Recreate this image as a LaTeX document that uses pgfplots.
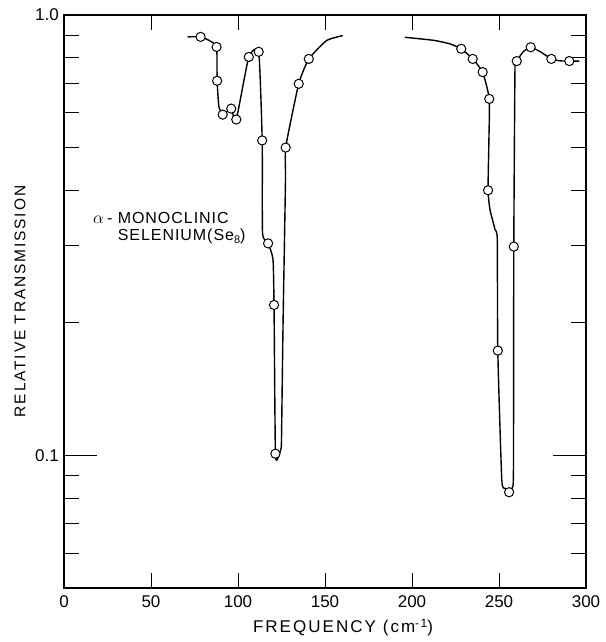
\documentclass[border=0pt]{standalone}
\usepackage{fontspec}
\setmainfont{Liberation Sans}
\newfontfamily\spaced[LetterSpace=12]{Liberation Sans}
\newfontfamily\spacedb[LetterSpace=6]{Liberation Sans}
\usepackage{pgfplots}
\pgfplotsset{compat=1.18}
\begin{document}
\fontsize{15}{18}\selectfont
\begin{tikzpicture}
\path[use as bounding box] (-64pt,-54pt) rectangle (541pt,588pt);
\begin{axis}[
  at={(0pt,0pt)}, anchor=south west,
  scale only axis, width=522pt, height=573pt,
  xmin=0, xmax=300, ymin=0.05, ymax=1, ymode=log,
  xtick={0,50,...,300}, minor xtick={50,100,...,250},
  major x tick style={draw=none},
  ytick={0.1,1}, yticklabels={0.1,1.0},
  minor ytick={0.06,0.07,0.08,0.09,0.2,0.3,0.4,0.5,0.6,0.7,0.8,0.9},
  major tick length=33pt, minor tick length=15pt,
  tick pos=both, tick align=inside,
  axis line style={line width=1.1pt},
  every tick/.style={black, line width=0.8pt},
  /pgf/number format/assume math mode=true,
  ticklabel style={font=\fontsize{17}{20}\selectfont},
  xticklabel style={yshift=-2pt},
  xlabel={FREQUENCY (cm\raisebox{5pt}{\fontsize{12}{12}\selectfont -1})},
  ylabel={RELATIVE TRANSMISSION},
  xlabel style={at={(axis description cs:0.5345,-0.0698)}, anchor=center, font=\spaced\fontsize{17}{20}\selectfont},
  ylabel style={at={(axis description cs:-0.0843,0.5)}, anchor=center, font=\spaced\fontsize{15.5}{18}\selectfont},
]
\addplot[black, line width=1.4pt, smooth, tension=0.3] coordinates {
(71.1,0.892) (78.5,0.892) (83.5,0.875) (87.7,0.846) (88.0,0.709) (89.0,0.62)
(91.2,0.594) (93.6,0.603) (96.1,0.613) (99.0,0.579) (106.2,0.803) (111.9,0.825)
(113.9,0.519) (114.1,0.32) (117.3,0.303) (120.1,0.279) (120.7,0.2196)
(121.5,0.1009) (123.2,0.0993) (124.8,0.104) (125.0,0.109) (125.9,0.2)
(127.3,0.423) (127.4,0.500) (134.9,0.698) (140.7,0.795) (150.9,0.875) (160.2,0.898)
};
\addplot[black, line width=1.4pt, smooth, tension=0.3] coordinates {
(195.9,0.890) (212.5,0.876) (221.8,0.860) (228.3,0.838) (234.9,0.795) (240.6,0.742)
(244.4,0.645) (244.2,0.52) (243.7,0.400) (244.8,0.362) (247.7,0.326) (249.0,0.31)
(249.3,0.173) (251.6,0.088) (253.5,0.0842) (255.8,0.0825) (257.6,0.0845) (258.3,0.092)
(258.5,0.298) (259.2,0.764) (260.2,0.786) (264.0,0.826) (268.2,0.845) (273.6,0.826)
(280.1,0.795) (285.1,0.787) (290.4,0.786) (296.2,0.786)
};
\addplot[only marks, mark=*, mark size=4.6pt, mark options={fill=white, draw=black, line width=1pt}] coordinates {
(78.5,0.892) (87.7,0.846) (88.0,0.709) (91.2,0.594) (96.1,0.613) (99.0,0.579)
(106.2,0.803) (111.9,0.825) (113.9,0.519) (117.3,0.303) (120.7,0.2196) (121.5,0.1009)
(127.4,0.500) (134.9,0.698) (140.7,0.795)
(228.3,0.838) (234.9,0.795) (240.6,0.742) (244.4,0.645) (243.7,0.400) (249.3,0.173)
(255.8,0.0825) (258.5,0.298) (260.2,0.786) (268.2,0.845) (280.1,0.795) (290.4,0.786)
};
\node[anchor=base west, inner sep=0pt, font=\spacedb\fontsize{16}{19}\selectfont] at (axis cs:30.8,0.3366) {MONOCLINIC};
\node[anchor=base east, inner sep=0pt, font=\spacedb\fontsize{16}{19}\selectfont] at (axis cs:27.9,0.3366) {$\alpha$\hspace{3pt}-};
\node[anchor=base west, inner sep=0pt, font=\spacedb\fontsize{16}{19}\selectfont] at (axis cs:30.8,0.308) {SELENIUM(Se\raisebox{-3pt}{\fontsize{11}{11}\selectfont 8})};
\end{axis}
\end{tikzpicture}
\end{document}
